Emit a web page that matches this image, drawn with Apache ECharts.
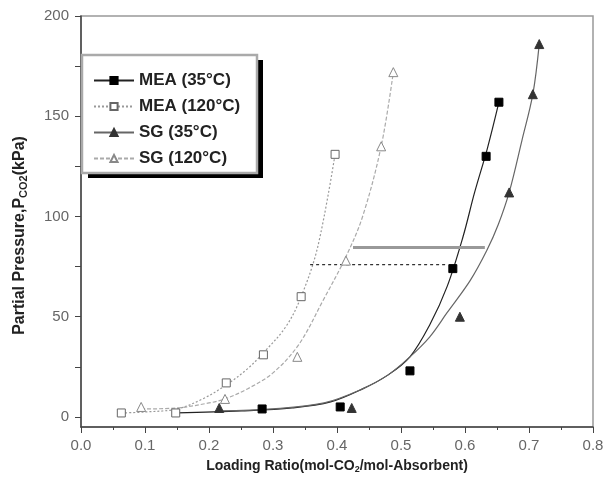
<!DOCTYPE html>
<html>
<head>
<meta charset="utf-8">
<script src="https://cdn.jsdelivr.net/npm/echarts@6/dist/echarts.min.js"></script>
<style>
  html, body { margin: 0; padding: 0; background: #fff; }
  #chart { width: 607px; height: 487px; }
</style>
</head>
<body>
<div id="chart"></div>
<script>
// measured points
var mea35 = [[0.283, 4], [0.405, 5], [0.514, 23], [0.581, 74], [0.633, 130], [0.653, 157]];
var mea120 = [[0.063, 2], [0.148, 2], [0.227, 17], [0.285, 31], [0.344, 60], [0.397, 131]];
var sg35 = [[0.216, 4.5], [0.423, 4.5], [0.592, 50], [0.669, 112], [0.706, 161], [0.716, 186]];
var sg120 = [[0.094, 5], [0.225, 9], [0.338, 30], [0.414, 78], [0.469, 135], [0.488, 172]];

// fitted curves
var mea35Fit = [[0.15, 2], [0.25, 3], [0.33, 4.5], [0.39, 7.5], [0.44, 14], [0.48, 21], [0.514, 30],
                [0.545, 46], [0.572, 65], [0.597, 90], [0.615, 112], [0.635, 134], [0.653, 157]];
var mea120Fit = [[0.063, 2], [0.10, 2.5], [0.15, 4], [0.19, 9], [0.227, 16], [0.26, 24], [0.285, 32],
                 [0.32, 45], [0.344, 60], [0.37, 85], [0.397, 131]];
var sg35Fit = [[0.216, 3], [0.30, 4], [0.38, 7], [0.44, 14], [0.48, 21], [0.514, 30], [0.545, 40],
               [0.572, 52], [0.608, 68], [0.634, 83], [0.652, 96], [0.669, 112], [0.689, 138],
               [0.706, 161], [0.716, 186]];
var sg120Fit = [[0.094, 4], [0.15, 4.5], [0.20, 7], [0.225, 9], [0.26, 14], [0.30, 22], [0.34, 36],
                [0.378, 58], [0.414, 80], [0.44, 100], [0.469, 135], [0.488, 172]];

// horizontal guide lines
var guideSolid = [[0.425, 84.5], [0.631, 84.5]];
var guideDotted = [[0.358, 76], [0.569, 76]];

var names = ['MEA (35°C)', 'MEA (120°C)', 'SG (35°C)', 'SG (120°C)'];
var yLabels = [0, 50, 100, 150, 200];
var yTicks = [0, 25, 50, 75, 100, 125, 150, 175, 200];

var txt = '"Liberation Sans", Arial, sans-serif';

function fitLine(name, data, color, type, symbol, mColor, mBorder) {
    return {
        name: name, type: 'line', data: data, smooth: 0.35,
        showSymbol: false, symbol: symbol, symbolSize: 8,
        itemStyle: { color: mColor, borderColor: mBorder, borderWidth: 1 },
        lineStyle: { color: color, width: 1.2, type: type },
        silent: true, z: 2
    };
}
function points(name, data, symbol, size, mColor, mBorder) {
    return {
        name: name, type: 'scatter', data: data,
        symbol: symbol, symbolSize: size,
        itemStyle: { color: mColor, borderColor: mBorder, borderWidth: 1, opacity: 1 },
        z: 3
    };
}

var option = {
    backgroundColor: '#fff',
    animation: false,
    grid: { left: 81, right: 14, top: 16, bottom: 60, show: true, borderColor: '#999', borderWidth: 1.5 },
    legend: {
        orient: 'vertical', left: 93, top: 72, padding: 0,
        itemWidth: 40, itemHeight: 9, itemGap: 9,
        data: names,
        textStyle: { fontFamily: txt, fontWeight: 'bold', fontSize: 17, color: '#222' }
    },
    xAxis: {
        type: 'value', min: 0, max: 0.8, interval: 0.1,
        name: 'Loading Ratio(mol-CO{sub|2}/mol-Absorbent)',
        nameLocation: 'middle', nameGap: 32,
        nameTextStyle: {
            fontFamily: txt, fontWeight: 'bold', fontSize: 14, color: '#222',
            rich: { sub: { fontFamily: txt, fontWeight: 'bold', fontSize: 9, color: '#222', verticalAlign: 'bottom', padding: [6, 0, 0, 0] } }
        },
        axisLine: { onZero: false, lineStyle: { color: '#444', width: 1.5 } },
        axisTick: { inside: false, length: 6, lineStyle: { color: '#444' } },
        minorTick: { show: true, splitNumber: 2, length: 3, lineStyle: { color: '#444' } },
        splitLine: { show: false },
        axisLabel: { fontFamily: txt, fontSize: 15, color: '#666', margin: 11,
            formatter: function (v) { return v.toFixed(1); } }
    },
    yAxis: {
        type: 'value', min: -5, max: 200,
        name: 'Partial Pressure,P{sub|CO2}(kPa)',
        nameLocation: 'middle', nameGap: 52, nameRotate: 90,
        nameTextStyle: {
            fontFamily: txt, fontWeight: 'bold', fontSize: 16, color: '#222', padding: [0, 28, 0, 0],
            rich: { sub: { fontFamily: txt, fontWeight: 'bold', fontSize: 11, color: '#222', verticalAlign: 'bottom', padding: [7, 0, 0, 0] } }
        },
        axisLine: { onZero: false, lineStyle: { color: '#444', width: 1.5 } },
        axisTick: { inside: false, length: 6, customValues: yTicks, lineStyle: { color: '#444' } },
        splitLine: { show: false },
        axisLabel: { fontFamily: txt, fontSize: 15, color: '#666', margin: 12, customValues: yLabels }
    },
    graphic: [
        { type: 'rect', z: 1, shape: { x: 88, y: 60, width: 175, height: 118 }, style: { fill: '#000' } },
        { type: 'rect', z: 1, shape: { x: 82, y: 55, width: 175, height: 118 }, style: { fill: '#fff', stroke: '#aaa', lineWidth: 2.5 } }
    ],
    series: [
        fitLine(names[0], mea35Fit, '#222', 'solid', 'rect', '#000', '#000'),
        fitLine(names[1], mea120Fit, '#999', [2, 2], 'rect', '#fff', '#666'),
        fitLine(names[2], sg35Fit, '#666', 'solid', 'triangle', '#333', '#333'),
        fitLine(names[3], sg120Fit, '#aaa', [4, 2], 'triangle', '#fff', '#888'),
        points(names[0], mea35, 'rect', 8, '#000', '#000'),
        points(names[1], mea120, 'rect', 8, '#fff', '#666'),
        points(names[2], sg35, 'triangle', 9, '#333', '#333'),
        points(names[3], sg120, 'triangle', 9, '#fff', '#888'),
        { type: 'line', data: guideSolid, showSymbol: false, silent: true,
          lineStyle: { color: '#999', width: 3 }, z: 2 },
        { type: 'line', data: guideDotted, showSymbol: false, silent: true,
          lineStyle: { color: '#333', width: 1.2, type: [3, 3] }, z: 2 }
    ]
};

var myChart = echarts.init(document.getElementById('chart'));
myChart.setOption(option, true);
</script>
</body>
</html>
